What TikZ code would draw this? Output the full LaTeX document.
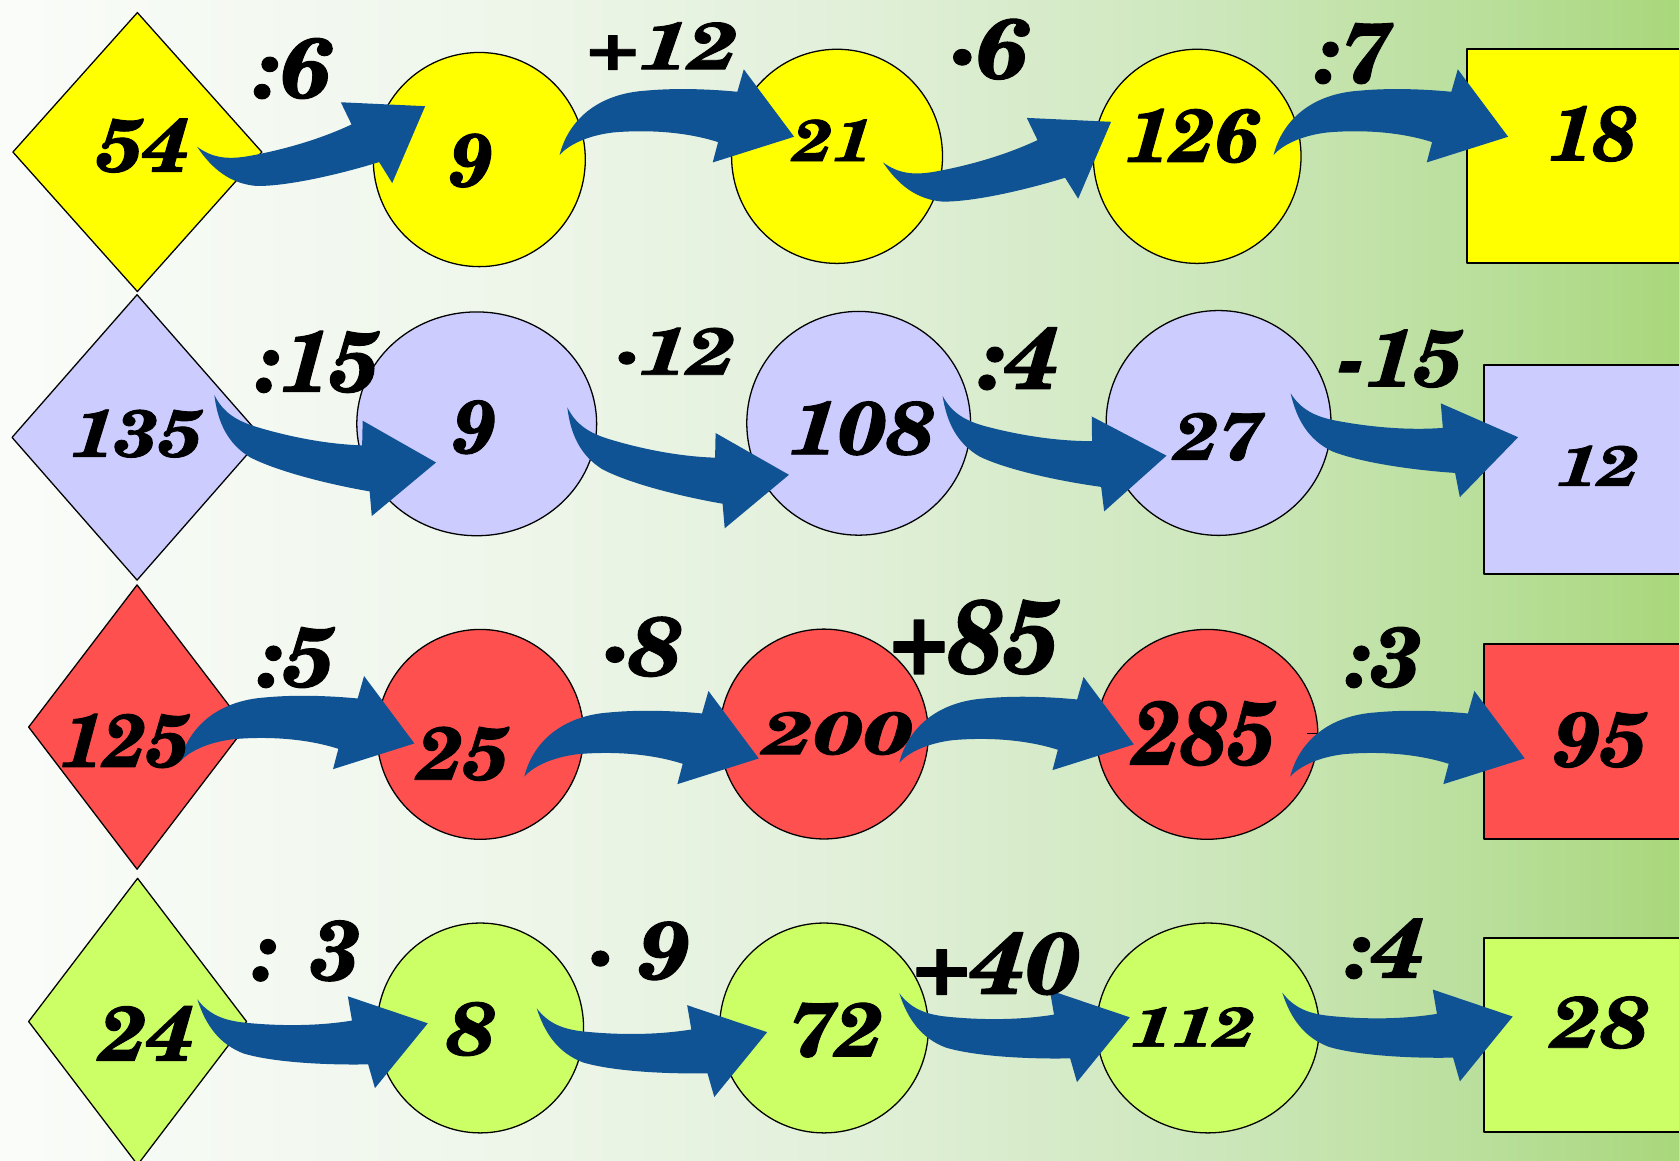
\documentclass[tikz,border=0pt]{standalone}
\usepackage{fontspec}
\setmainfont{TeX Gyre Schola}[BoldItalicFeatures={FakeBold=1.2}]
\usetikzlibrary{shapes.geometric}
\definecolor{cYel}{HTML}{FFFF00}
\definecolor{cLav}{HTML}{CCCCFF}
\definecolor{cRed}{HTML}{FF5050}
\definecolor{cLime}{HTML}{CCFF66}
\definecolor{cArr}{HTML}{0F5394}
\definecolor{bgA}{HTML}{FAFCF9}
\definecolor{bgB}{HTML}{EEF6EA}
\definecolor{bgC}{HTML}{E2F0DA}
\definecolor{bgD}{HTML}{CFE8BF}
\definecolor{bgE}{HTML}{BADF9C}
\definecolor{bgF}{HTML}{A9D77B}
\pgfdeclarehorizontalshading{bgshade}{100bp}{color(0bp)=(bgA); color(25bp)=(bgA); color(40bp)=(bgB); color(50bp)=(bgC); color(60bp)=(bgD); color(69bp)=(bgE); color(75bp)=(bgF); color(100bp)=(bgF)}
\tikzset{
  dia/.style={diamond, draw=black, line width=1.2pt, inner sep=0pt},
  oval/.style={ellipse, draw=black, line width=1.2pt, inner sep=0pt},
  box/.style={rectangle, draw=black, line width=1.8pt, inner sep=0pt},
  flow/.style={fill=cArr},
  txt/.style={inner sep=0pt, font=\bfseries\itshape\fontsize{#1}{#1}\selectfont},
}
\newcommand\wide[2]{\scalebox{#1}[1]{#2}}
% curved block arrow, hump upwards (tail at origin)
\newcommand\arrA[2][0]{\fill[flow, shift={#2}, rotate=#1]
  (0,0) .. controls (8,-32) and (35,-57) .. (80,-60)
  .. controls (112,-63) and (145,-61) .. (166,-59)
  -- (172,-80) -- (219,-17) -- (143,7) -- (148,-12)
  .. controls (120,-21) and (85,-24) .. (50,-21)
  .. controls (25,-18) and (8,-9) .. cycle;}
% curved block arrow, sagging downwards (tail at origin)
\newcommand\arrB[2][0]{\fill[flow, shift={#2}, rotate=#1]
  (0,0) .. controls (8,16) and (20,24) .. (40,30)
  .. controls (70,39) and (105,46) .. (138,47)
  -- (138.5,24) -- (207,63) -- (147,113) -- (145,90)
  .. controls (110,84) and (60,72) .. (33,58)
  .. controls (12,45) and (3,25) .. cycle;}
\begin{document}
\begin{tikzpicture}[x=1pt, y=-1pt, line join=round]
\clip (0,0) rectangle (1568,1084);
\shade[shading=bgshade] (0,0) rectangle (1568,1084);

% ---------- row 1 (yellow)
\node[dia, fill=cYel, minimum width=233, minimum height=261] (d1) at (128.3,142) {};
\node[oval, fill=cYel, minimum width=198, minimum height=200] (c11) at (447.6,149) {};
\node[oval, fill=cYel, minimum width=197, minimum height=200] (c12) at (781.7,146) {};
\node[oval, fill=cYel, minimum width=194, minimum height=200] (c13) at (1118,146) {};
\node[box, fill=cYel, minimum width=230, minimum height=200] (r1) at (1485,146) {};

% ---------- row 2 (lavender)
\node[dia, fill=cLav, minimum width=234, minimum height=267] (d2) at (128,408.5) {};
\node[oval, fill=cLav, minimum width=224, minimum height=209] (c21) at (445.2,395.8) {};
\node[oval, fill=cLav, minimum width=209, minimum height=209] (c22) at (801.9,395.3) {};
\node[oval, fill=cLav, minimum width=210, minimum height=210] (c23) at (1138,395) {};
\node[box, fill=cLav, minimum width=214, minimum height=195.5] (r2) at (1493,438.7) {};

% ---------- row 3 (red)
\node[dia, fill=cRed, minimum width=203, minimum height=266] (d3) at (128,679) {};
\node[oval, fill=cRed, minimum width=193, minimum height=196] (c31) at (448.5,685.8) {};
\node[oval, fill=cRed, minimum width=195, minimum height=196] (c32) at (769.5,685.5) {};
\node[oval, fill=cRed, minimum width=207, minimum height=196] (c33) at (1127.2,685.8) {};
\node[box, fill=cRed, minimum width=214, minimum height=182] (r3) at (1493,692.8) {};
\draw[line width=1.5pt] (1221,685) -- (1233,685);

% ---------- row 4 (lime)
\node[dia, fill=cLime, minimum width=204, minimum height=268] (d4) at (128.5,954) {};
\node[oval, fill=cLime, minimum width=193, minimum height=196] (c41) at (448.5,960) {};
\node[oval, fill=cLime, minimum width=195, minimum height=196] (c42) at (769.5,960) {};
\node[oval, fill=cLime, minimum width=208, minimum height=196] (c43) at (1128,960) {};
\node[box, fill=cLime, minimum width=214, minimum height=181] (r4) at (1493,966.5) {};

% ---------- arrows
\arrB[27]{(184,137)}
\arrA{(522.6,144.7)}
\arrB[27]{(824.6,151.6)}
\arrA{(1189.4,144.7)}

\arrB{(200.2,368.9)}
\arrB{(529.8,380.4)}
\arrB[2]{(880.3,369.8)}
\arrB[6]{(1205.3,367.3)}

\arrA{(168,711.3)}
\arrA{(489.6,725.3)}
\arrA{(839.9,712.2)}
\arrA{(1204.9,725.3)}

\arrB[11]{(184.3,933.3)}
\arrB[11]{(501.2,941.6)}
\arrB[11]{(839.9,927.7)}
\arrB[11]{(1197.5,927)}

% ---------- texts row 1
\node[txt=70] (n11) at (134,136) {\wide{1.08}{54}};
\node[txt=79] (o11) at (274,64) {\wide{1.07}{:6}};
\node[txt=70] (n12) at (440.5,150) {9};
\node[txt=62] (o12) at (619,43) {\wide{1.3}{+12}};
\node[txt=55] (n13) at (778,131) {\wide{1.17}{21}};
\node[txt=79] (o13) at (924,46) {\wide{1.1}{·6}};
\node[txt=70] (n14) at (1114,127) {\wide{1.04}{126}};
\node[txt=79] (o14) at (1264,50) {\wide{1.04}{:7}};
\node[txt=72] (n15) at (1488,125) {18};

% ---------- texts row 2
\node[txt=62] (n21) at (128,405) {\wide{1.15}{135}};
\node[txt=80] (o21) at (297,338) {:15};
\node[txt=70] (n22) at (443.6,399) {9};
\node[txt=62] (o22) at (631,328) {\wide{1.27}{·12}};
\node[txt=70] (n23) at (805.5,400) {\wide{1.13}{108}};
\node[txt=81] (o23) at (952,335) {\wide{1.08}{:4}};
\node[txt=62] (n24) at (1138.5,408) {\wide{1.16}{27}};
\node[txt=75] (o24) at (1308,335) {\wide{1.05}{-15}};
\node[txt=53] (n25) at (1492.6,435) {\wide{1.27}{12}};

% ---------- texts row 3
\node[txt=70] (n31) at (117,692) {125};
\node[txt=79] (o31) at (277,614) {\wide{1.05}{:5}};
\node[txt=70] (n32) at (433,704) {\wide{1.06}{25}};
\node[txt=78] (o32) at (600,604) {\wide{1.13}{·8}};
\node[txt=56] (n33) at (783,685) {\wide{1.45}{200}};
\node[txt=97] (o33) at (910.5,595) {\wide{0.93}{+85}};
\node[txt=84] (n34) at (1125,685) {\wide{0.92}{285}};
\node[txt=79] (o34) at (1293,614) {\wide{1.05}{:3}};
\node[txt=72] (n35) at (1495,691) {\wide{1.05}{95}};

% ---------- texts row 4
\node[txt=72] (n41) at (137.6,965) {\wide{1.07}{24}};
\node[txt=79] (o41) at (287,888) {\wide{1.03}{: 3}};
\node[txt=70] (n42) at (440.5,961) {\wide{1.15}{8}};
\node[txt=76] (o42) at (597,888) {\wide{1.1}{· 9}};
\node[txt=71] (n43) at (781,962) {\wide{1.09}{72}};
\node[txt=81] (o43) at (931,900) {\wide{1.1}{+40}};
\node[txt=52] (n44) at (1114.5,959) {\wide{1.3}{112}};
\node[txt=78] (o44) at (1294,886) {\wide{1.1}{:4}};
\node[txt=68] (n45) at (1495,955) {\wide{1.17}{28}};
\end{tikzpicture}
\end{document}
